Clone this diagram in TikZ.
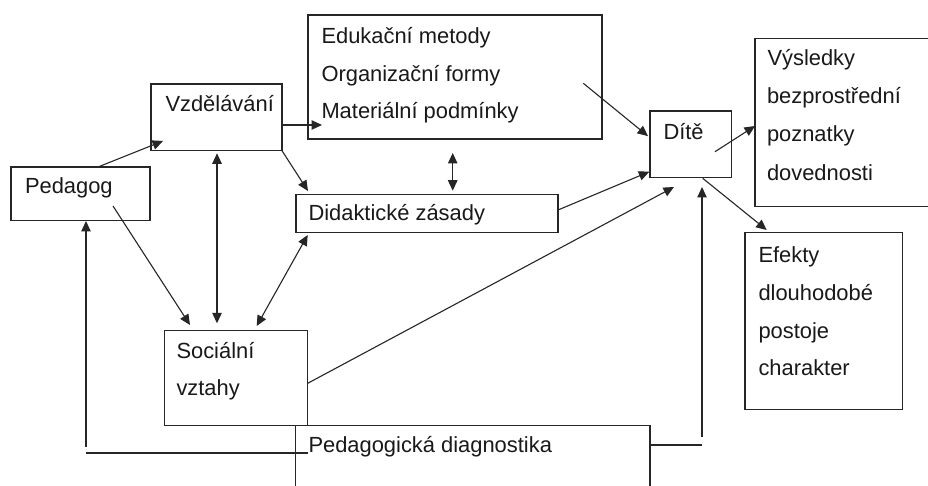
\documentclass[tikz,border=0pt]{standalone}
\usepackage{fontspec}
\setmainfont{Liberation Sans}
\usetikzlibrary{arrows.meta,calc}
\tikzset{
  box/.style={draw=black!85, line width=1.2pt, inner sep=0pt, outer sep=0pt, rectangle},
  lbl/.style={anchor=base west, inner sep=0pt, outer sep=0pt, font=\fontsize{21.9}{26}\selectfont, text=black!90},
  arr/.style={draw=black!85, line width=1.1pt, -{Triangle[length=10.5pt,width=9.5pt]}},
  darr/.style={draw=black!85, line width=1.1pt, {Triangle[length=10.5pt,width=9.5pt]}-{Triangle[length=10.5pt,width=9.5pt]}},
  ln/.style={draw=black!85, line width=1.1pt}
}
\begin{document}
\begin{tikzpicture}[x=1pt,y=-1pt]
\clip (0,0) rectangle (928,486);
\fill[white] (0,0) rectangle (928,486);
% boxes
\node[box, minimum width=139pt, minimum height=53.5pt] (ped) at (80.5,193.75) {};
\node[box, minimum width=131pt, minimum height=66.7pt] (vzd) at (216.5,117.35) {};
\node[box, minimum width=294pt, minimum height=124pt] (edu) at (455,77) {};
\node[box, minimum width=262pt, minimum height=38pt] (did) at (427,213.3) {};
\node[box, minimum width=81.7pt, minimum height=66.3pt] (dite) at (690.85,144.15) {};
\node[box, minimum width=185pt, minimum height=168.4pt] (vys) at (847.5,122.5) {};
\node[box, minimum width=157.7pt, minimum height=176.6pt] (efe) at (823.85,321) {};
\node[box, minimum width=143.4pt, minimum height=95pt] (soc) at (236,378.2) {};
\node[box, minimum width=354.3pt, minimum height=84.3pt] (diag) at (472.85,467.85) {};
% texts
\node[lbl] (tped) at (25,194) {Pedagog};
\node[lbl] (tvzd) at (165.5,111.7) {Vzdělávání};
\node[lbl] (tedu1) at (321.5,43.3) {Edukační metody};
\node[lbl] (tedu2) at (321.5,81.2) {Organizační formy};
\node[lbl] (tedu3) at (321.5,118.5) {Materiální podmínky};
\node[lbl] (tdid) at (308.5,220.7) {Didaktické zásady};
\node[lbl] (tdite) at (663.5,139.3) {Dítě};
\node[lbl] (tvys1) at (767.5,66) {Výsledky};
\node[lbl] (tvys2) at (767,104) {bezprostřední};
\node[lbl] (tvys3) at (767,141.7) {poznatky};
\node[lbl] (tvys4) at (767,180.2) {dovednosti};
\node[lbl] (tefe1) at (758.5,262.7) {Efekty};
\node[lbl] (tefe2) at (758.5,300) {dlouhodobé};
\node[lbl] (tefe3) at (758.5,338.3) {postoje};
\node[lbl] (tefe4) at (758.5,375) {charakter};
\node[lbl] (tsoc1) at (176.5,358.3) {Sociální};
\node[lbl] (tsoc2) at (176.5,395.7) {vztahy};
\node[lbl] (tdiag) at (308.5,452.5) {Pedagogická diagnostika};
% connectors
\draw[arr] ($(ped.north)+(17.5,0)$) -- ($(vzd.south west)+(12,-9.7)$);
\draw[arr] (vzd.east |- 0,125) -- ($(edu.west |- 0,125)+(14,0)$);
\draw[arr] (vzd.south east) -- ($(did.north west)+(12,-3.3)$);
\draw[darr] ($(edu.south)+(-2.3,14)$) -- ($(did.north)+(25.7,-3.6)$);
\draw[darr] ($(vzd.south)+(0.5,2.6)$) -- ($(vzd.south |- soc.north)+(0.5,-7.4)$);
\draw[arr] ($(ped.center)+(32.5,12.25)$) -- ($(soc.north west)+(25.7,-5.7)$);
\draw[darr] ($(soc.north east)+(-51,-4.7)$) -- ($(did.south west)+(11.7,2.7)$);
\draw[ln] ($(diag.north west)+(12.3,27.3)$) -- ($(ped.south |- diag.north west)+(5.5,27.3)$);
\draw[arr] ($(ped.south |- diag.north west)+(5.5,21)$) -- ($(ped.south)+(5.5,0.5)$);
\draw[ln] ($(diag.north east)+(0,19.3)$) -- ($(dite.south |- diag.north east)+(11.15,19.3)$);
\draw[arr] ($(dite.south |- diag.north east)+(11.15,11.3)$) -- ($(dite.south)+(11.15,9.7)$);
\draw[arr] ($(soc.east)+(0,5.1)$) -- ($(dite.south west)+(24,9.7)$);
\draw[arr] ($(did.east)+(0,-3.3)$) -- ($(dite.south west)+(-0.7,-5.6)$);
\draw[arr] ($(edu.north east)+(-18.7,68.3)$) -- ($(dite.west)+(-2,-8)$);
\draw[arr] ($(dite.center)+(24.15,7.55)$) -- ($(vys.west)+(0,3.5)$);
\draw[arr] ($(dite.south)+(11.85,1)$) -- ($(efe.north west)+(21.7,-2.7)$);
\end{tikzpicture}
\end{document}
